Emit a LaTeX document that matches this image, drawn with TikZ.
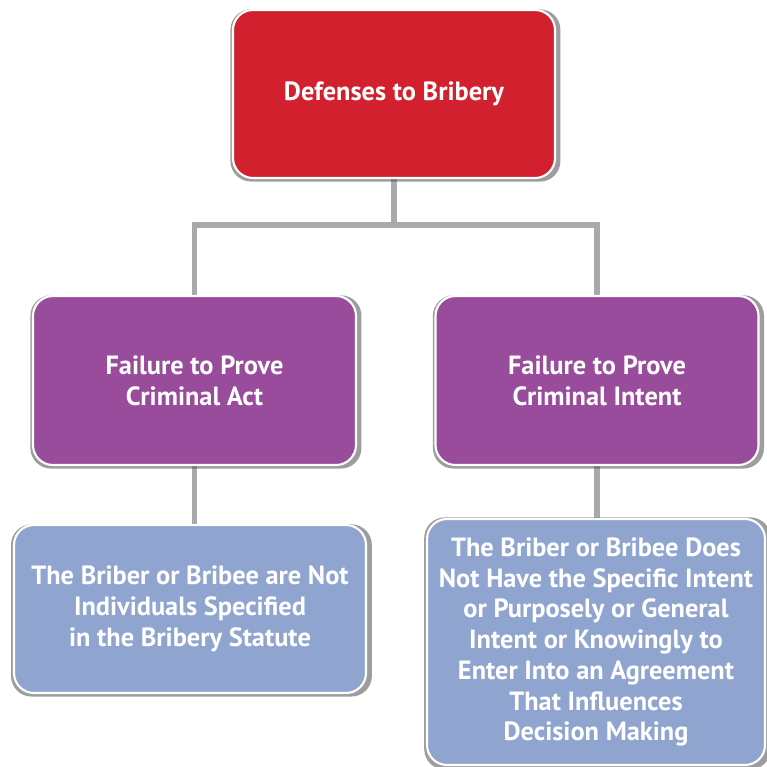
\documentclass[tikz,border=0pt]{standalone}
\usepackage{fontspec}
\setmainfont{PT Sans}
\usetikzlibrary{shadows,backgrounds}
\definecolor{bribered}{HTML}{D2202E}
\definecolor{bribepurple}{HTML}{984C9B}
\definecolor{bribeblue}{HTML}{8FA5CF}
\definecolor{linkgray}{HTML}{A7A9AC}
\begin{document}
\begin{tikzpicture}[
    box/.style={rectangle, rounded corners=0.4cm, draw=white, line width=1.2pt,
      text=white, align=center, inner sep=2pt,
      font=\fontsize{15}{17.5}\selectfont\bfseries,
      drop shadow={shadow xshift=0.8pt, shadow yshift=-0.8pt, shadow scale=1.025,
        opacity=.55, fill=black!70}},
    topbox/.style={box, fill=bribered, minimum width=6.44cm, minimum height=3.36cm},
    midbox/.style={box, fill=bribepurple, minimum width=6.46cm, minimum height=3.38cm},
    link/.style={draw=linkgray, line width=3.4pt}
  ]
    \useasboundingbox (0,0) rectangle (15.32,-15.34);

    \node[topbox] (defense) at (7.88,-1.88) {Defenses to Bribery};

    \node[midbox] (act) at (3.89,-7.61) {Failure to Prove\\Criminal Act};
    \node[midbox] (intent) at (11.94,-7.61) {Failure to Prove\\Criminal Intent};

    \node[box, fill=bribeblue, minimum width=7.04cm, minimum height=3.36cm] (actdet) at (3.80,-12.18)
      {The Briber or Bribee are Not\\Individuals Specified\\in the Bribery Statute};
    \node[box, fill=bribeblue, minimum width=6.76cm, minimum height=4.92cm] (intentdet) at (11.92,-12.84)
      {The Briber or Bribee Does\\Not Have the Specific Intent\\or Purposely or General\\Intent or Knowingly to\\Enter Into an Agreement\\That Influences\\Decision Making};

    \coordinate (split) at (7.88,-4.5);

    \begin{pgfonlayer}{background}
      \draw[link] (defense.south) -- (split);
      \draw[link] (split) -| (act.north);
      \draw[link] (split) -| (intent.north);
      \draw[link] (act.south) -- (act.south |- actdet.north);
      \draw[link] (intent.south) -- (intent.south |- intentdet.north);
    \end{pgfonlayer}
\end{tikzpicture}
\end{document}
